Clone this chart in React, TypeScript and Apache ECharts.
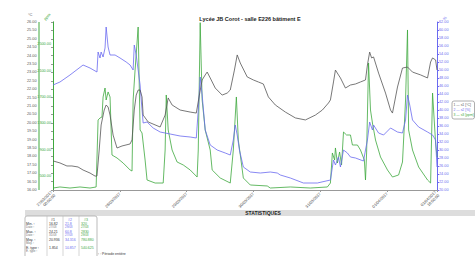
import { useEffect, useRef } from "react";
import * as echarts from "echarts";

// time in hours from start
const tempHours = [0, 2.5, 5.0, 6.8, 9.0, 10.8, 13.3, 15.1, 15.8, 16.6, 17.3, 18.4, 19.1, 19.8, 20.5, 21.6, 23.0, 24.8, 27.7, 28.4, 29.2, 29.9, 30.6, 31.3, 32.0, 32.4, 34.2, 38.5, 40.3, 41.4, 42.8, 45.7, 49.3, 51.5, 52.6, 53.6, 54.7, 55.4, 56.5, 58.3, 60.8, 62.6, 63.7, 65.2, 66.2, 67.3, 69.8, 72.0, 73.8, 75.6, 77.4, 79.9, 83.5, 87.1, 90.7, 94.3, 96.8, 99.0, 99.7, 100.8, 101.5, 102.6, 103.3, 105.1, 106.9, 108.7, 110.5, 112.3, 113.0, 113.8, 114.5, 115.2, 117.0, 119.5, 121.3, 122.0, 123.8, 125.6, 127.4, 129.2, 132.1, 134.6, 135.7, 136.4, 137.5, 138];
const tempValues = [17.73, 17.61, 17.43, 17.43, 17.37, 17.19, 17.01, 16.83, 16.83, 18.38, 19.87, 20.76, 21.06, 20.94, 20.46, 19.27, 18.5, 18.62, 18.74, 18.98, 20.76, 21.65, 21.95, 21.95, 21.54, 20.46, 20.05, 19.75, 20.46, 21.48, 21.06, 20.76, 20.64, 20.58, 21.65, 22.55, 22.85, 23.02, 22.67, 22.07, 21.65, 21.77, 21.95, 23.14, 24.04, 23.56, 22.73, 22.55, 22.43, 22.31, 21.54, 21.06, 20.64, 20.29, 20.17, 20.46, 20.76, 21.18, 21.36, 22.43, 23.14, 22.85, 22.67, 22.07, 22.25, 22.31, 22.43, 22.55, 23.44, 24.21, 23.86, 23.92, 22.96, 21.77, 20.76, 20.58, 22.13, 23.26, 23.32, 23.02, 22.85, 22.67, 23.62, 23.86, 23.74, 23.14];

const humHours = [0, 2.5, 6.1, 10.8, 13.3, 15.8, 16.2, 16.9, 17.3, 18.0, 18.7, 19.1, 19.8, 20.5, 22.3, 24.1, 26.3, 27.7, 28.8, 29.2, 29.9, 30.6, 31.3, 31.7, 32.4, 33.8, 36.0, 38.5, 42.1, 45.7, 49.3, 51.5, 52.2, 52.9, 53.6, 54.7, 56.5, 59.0, 61.9, 63.7, 64.8, 65.5, 66.2, 67.0, 68.4, 70.9, 74.5, 78.1, 80.6, 81.7, 85.3, 90.0, 95.0, 99.7, 100.8, 101.5, 102.6, 103.3, 104.4, 105.8, 106.9, 108.7, 111.6, 112.3, 113.0, 113.8, 114.8, 115.2, 117.0, 118.8, 121.3, 123.8, 125.6, 126.7, 127.4, 128.2, 129.2, 131.4, 134.6, 136.4, 137.5, 138];
const humValues = [46.25, 47.0, 48.75, 51.25, 50.5, 49.5, 54.5, 53.0, 54.5, 53.25, 55.5, 60.75, 55.75, 53.75, 53.75, 53.0, 52.0, 51.25, 50.0, 56.25, 53.75, 50.0, 46.25, 42.5, 36.75, 37.0, 35.5, 34.5, 34.0, 33.5, 33.25, 33.0, 40.0, 48.25, 43.75, 35.0, 31.25, 30.0, 29.25, 28.75, 32.5, 36.25, 33.75, 30.0, 25.75, 24.5, 24.25, 24.5, 24.25, 23.75, 23.0, 21.75, 21.75, 22.5, 27.5, 26.25, 28.25, 25.75, 30.0, 29.25, 28.25, 28.0, 27.25, 30.0, 32.5, 37.0, 35.0, 36.25, 34.25, 33.75, 35.5, 34.5, 34.25, 37.5, 43.75, 41.25, 37.5, 35.75, 34.5, 33.75, 32.5, 25.75];

const co2Hours = [0, 2.5, 6.1, 9.7, 13.3, 15.5, 16.2, 16.9, 17.6, 18.0, 18.7, 19.1, 19.8, 20.5, 21.2, 23.0, 25.2, 27.7, 28.4, 28.8, 29.5, 30.6, 31.3, 32.0, 33.1, 33.8, 36.7, 39.6, 40.3, 40.7, 41.4, 42.8, 44.6, 46.8, 49.3, 51.8, 52.2, 52.9, 53.6, 54.7, 56.5, 57.2, 60.1, 63.7, 64.8, 65.9, 66.6, 68.4, 70.9, 77.0, 78.1, 85.3, 92.5, 98.6, 99.7, 100.4, 101.2, 101.5, 102.2, 103.0, 103.7, 104.4, 105.5, 106.9, 107.6, 109.4, 110.5, 111.9, 112.3, 112.7, 113.4, 114.1, 114.8, 115.9, 117.7, 120.2, 122.0, 124.2, 125.6, 126.0, 126.7, 127.4, 127.8, 129.2, 131.4, 134.6, 135.7, 136.4, 137.5, 138];
const co2Values = [320, 336, 320, 336, 320, 336, 1353, 1383, 1398, 1702, 1838, 1656, 1778, 1702, 821, 776, 700, 594, 578, 1656, 2112, 2764, 1201, 1155, 745, 442, 396, 396, 897, 1732, 1201, 897, 715, 670, 594, 487, 897, 2830, 1656, 1201, 897, 594, 472, 396, 897, 1702, 1049, 472, 366, 351, 320, 336, 320, 336, 396, 852, 745, 928, 700, 867, 670, 1170, 1125, 1125, 973, 973, 897, 745, 442, 852, 2218, 1504, 1307, 1049, 791, 594, 487, 518, 715, 1049, 1656, 2719, 1201, 897, 639, 442, 396, 1762, 1003, 791];

const xTickHours = [0, 24, 48, 72, 96, 120, 138];
const xTickLabels = ["27/03/2017\n00:00:00", "28/03/2017", "29/03/2017", "30/03/2017", "31/03/2017", "01/04/2017", "01/04/2017\n18:00:00"];
const co2Ticks = [500, 900, 1300, 1700, 2100, 2500];

const seriesNames = ["s1 [°C]", "s2 [%]", "s3 [ppm]"];
const statRowLabels = ["Min. ¹", "Max. ¹", "Moy. ¹", "E. type ¹"];
const statRowSub = ["Date ¹", "Date ¹", "Moy. ¹", "E. type ¹"];
const stat1 = ["16.82", "24.21", "20.936", "1.854"];
const stat2 = ["21.8", "60.8", "34.316", "10.857"];
const stat3 = ["320", "2830", "780.880", "540.625"];
const stat1Sub = ["27/03", "31/03", "", ""];
const stat2Sub = ["29/03", "27/03", "", ""];
const stat3Sub = ["27/03", "29/03", "", ""];

const GRAY = "#555555";
const BLUE = "#6a6af0";
const GREEN = "#3ea83e";
const FONT = "Liberation Sans";

export default function App() {
  const ref = useRef<HTMLDivElement>(null);
  useEffect(() => {
    const chart = echarts.init(ref.current!, null, { renderer: "svg" });
    const pair = (h: number[], v: number[]) => h.map((x, i) => [x, v[i]]);

    const graphics: any[] = [];
    // axis names
    graphics.push({ type: "text", x: 28, y: 12, style: { text: "°C", fill: GRAY, font: `4px ${FONT}` } });
    graphics.push({ type: "text", x: 43, y: 18, rotation: Math.PI / 4, style: { text: "ppm", fill: GREEN, font: `4px ${FONT}` } });
    graphics.push({ type: "text", x: 442, y: 18, rotation: Math.PI / 4, style: { text: "%", fill: BLUE, font: `4px ${FONT}` } });
    // outer green axis line
    graphics.push({ type: "line", shape: { x1: 39, y1: 22, x2: 39, y2: 190 }, style: { stroke: GREEN, lineWidth: 1 } });
    // legend
    graphics.push({ type: "rect", shape: { x: 452, y: 101, width: 22.5, height: 18, r: 2 }, style: { fill: "#fff", stroke: "#999", lineWidth: 0.8 } });
    const legColors = [GRAY, BLUE, GREEN];
    seriesNames.forEach((n, i) => {
      graphics.push({ type: "text", x: 453.5, y: 103 + i * 5, style: { text: `${i + 1} — ${n}`, fill: legColors[i], font: `3.4px ${FONT}` } });
    });
    // statistics band
    graphics.push({ type: "rect", shape: { x: 25, y: 210, width: 450, height: 6 }, style: { fill: "#dddddd" } });
    graphics.push({ type: "text", x: 263, y: 213, style: { text: "STATISTIQUES", fill: "#222", font: `bold 5px ${FONT}`, align: "center", verticalAlign: "middle" } });
    // table
    graphics.push({ type: "rect", shape: { x: 25, y: 216, width: 72, height: 42, r: 2 }, style: { fill: "none", stroke: "#aaa", lineWidth: 0.8 } });
    [47, 63, 79].forEach((x) => graphics.push({ type: "line", shape: { x1: x, y1: 216, x2: x, y2: 256 }, style: { stroke: "#bbb", lineWidth: 0.6 } }));
    graphics.push({ type: "text", x: 53, y: 218, style: { text: "#1", fill: "#333", font: `3.5px ${FONT}`, align: "center" } });
    graphics.push({ type: "text", x: 70, y: 218, style: { text: "#2", fill: BLUE, font: `3.5px ${FONT}`, align: "center" } });
    graphics.push({ type: "text", x: 86, y: 218, style: { text: "#3", fill: GREEN, font: `3.5px ${FONT}`, align: "center" } });
    const rowY = [222, 230, 238, 246];
    statRowLabels.forEach((lab, i) => {
      graphics.push({ type: "text", x: 26, y: rowY[i], style: { text: lab, fill: "#333", font: `3.5px ${FONT}` } });
      graphics.push({ type: "text", x: 26, y: rowY[i] + 3.5, style: { text: statRowSub[i], fill: "#777", font: `3px ${FONT}` } });
      graphics.push({ type: "text", x: 49, y: rowY[i], style: { text: stat1[i], fill: "#333", font: `3.5px ${FONT}` } });
      graphics.push({ type: "text", x: 49, y: rowY[i] + 3.5, style: { text: stat1Sub[i], fill: "#777", font: `3px ${FONT}` } });
      graphics.push({ type: "text", x: 65, y: rowY[i], style: { text: stat2[i], fill: BLUE, font: `3.5px ${FONT}` } });
      graphics.push({ type: "text", x: 65, y: rowY[i] + 3.5, style: { text: stat2Sub[i], fill: BLUE, font: `3px ${FONT}` } });
      graphics.push({ type: "text", x: 81, y: rowY[i], style: { text: stat3[i], fill: GREEN, font: `3.5px ${FONT}` } });
      graphics.push({ type: "text", x: 81, y: rowY[i] + 3.5, style: { text: stat3Sub[i], fill: GREEN, font: `3px ${FONT}` } });
    });
    graphics.push({ type: "text", x: 98, y: 252, style: { text: "¹ : Période entière", fill: "#333", font: `3.5px ${FONT}` } });

    chart.setOption({
      animation: false,
      backgroundColor: "#fff",
      textStyle: { fontFamily: FONT },
      title: {
        text: "Lycée JB Corot - salle E226 bâtiment E",
        left: 245,
        top: 11,
        textAlign: "center",
        textStyle: { fontSize: 5.5, fontWeight: "bold", color: "#222", fontFamily: FONT },
      },
      grid: { left: 53, right: 38, top: 22, bottom: 66 },
      xAxis: {
        type: "value",
        min: 0,
        max: 138,
        axisLine: { lineStyle: { color: "#999", width: 1 } },
        axisTick: { show: true, length: 2, customValues: xTickHours, lineStyle: { color: "#999" } },
        splitLine: { show: false },
        axisLabel: {
          customValues: xTickHours,
          rotate: 45,
          fontSize: 4,
          color: "#444",
          margin: 3,
          lineHeight: 4.5,
          formatter: (v: number) => {
            const i = xTickHours.indexOf(v);
            return i >= 0 ? xTickLabels[i] : "";
          },
        },
      },
      yAxis: [
        {
          type: "value",
          position: "left",
          offset: 28,
          min: 16,
          max: 26,
          interval: 0.5,
          axisLine: { show: true, lineStyle: { color: "#999" } },
          axisTick: { show: true, length: 2, lineStyle: { color: "#999" } },
          splitLine: { show: false },
          axisLabel: { inside: true, fontSize: 3.8, color: GRAY, margin: 2, formatter: (v: number) => v.toFixed(2) },
        },
        {
          type: "value",
          position: "left",
          offset: 0,
          min: 290,
          max: 2840,
          axisLine: { show: true, lineStyle: { color: GREEN } },
          axisTick: { show: false },
          splitLine: { show: false },
          axisLabel: { customValues: co2Ticks, fontSize: 3.8, color: GREEN, margin: 2, formatter: (v: number) => v.toFixed(2) },
        },
        {
          type: "value",
          position: "right",
          offset: 0,
          min: 20,
          max: 62,
          interval: 2,
          axisLine: { show: true, lineStyle: { color: BLUE } },
          axisTick: { show: true, length: 2, lineStyle: { color: BLUE } },
          splitLine: { show: false },
          axisLabel: { fontSize: 3.8, color: BLUE, margin: 2, formatter: (v: number) => v.toFixed(2) },
        },
      ],
      series: [
        {
          name: seriesNames[2],
          type: "line",
          yAxisIndex: 1,
          data: pair(co2Hours, co2Values),
          showSymbol: false,
          lineStyle: { color: GREEN, width: 0.8 },
          itemStyle: { color: GREEN },
        },
        {
          name: seriesNames[1],
          type: "line",
          yAxisIndex: 2,
          data: pair(humHours, humValues),
          showSymbol: false,
          lineStyle: { color: BLUE, width: 0.8 },
          itemStyle: { color: BLUE },
        },
        {
          name: seriesNames[0],
          type: "line",
          yAxisIndex: 0,
          data: pair(tempHours, tempValues),
          showSymbol: false,
          lineStyle: { color: GRAY, width: 0.8 },
          itemStyle: { color: GRAY },
        },
      ],
      graphic: graphics,
    });
    return () => chart.dispose();
  }, []);
  return <div ref={ref} style={{ position: "fixed", left: 0, top: 0, width: 475, height: 256 }} />;
}
